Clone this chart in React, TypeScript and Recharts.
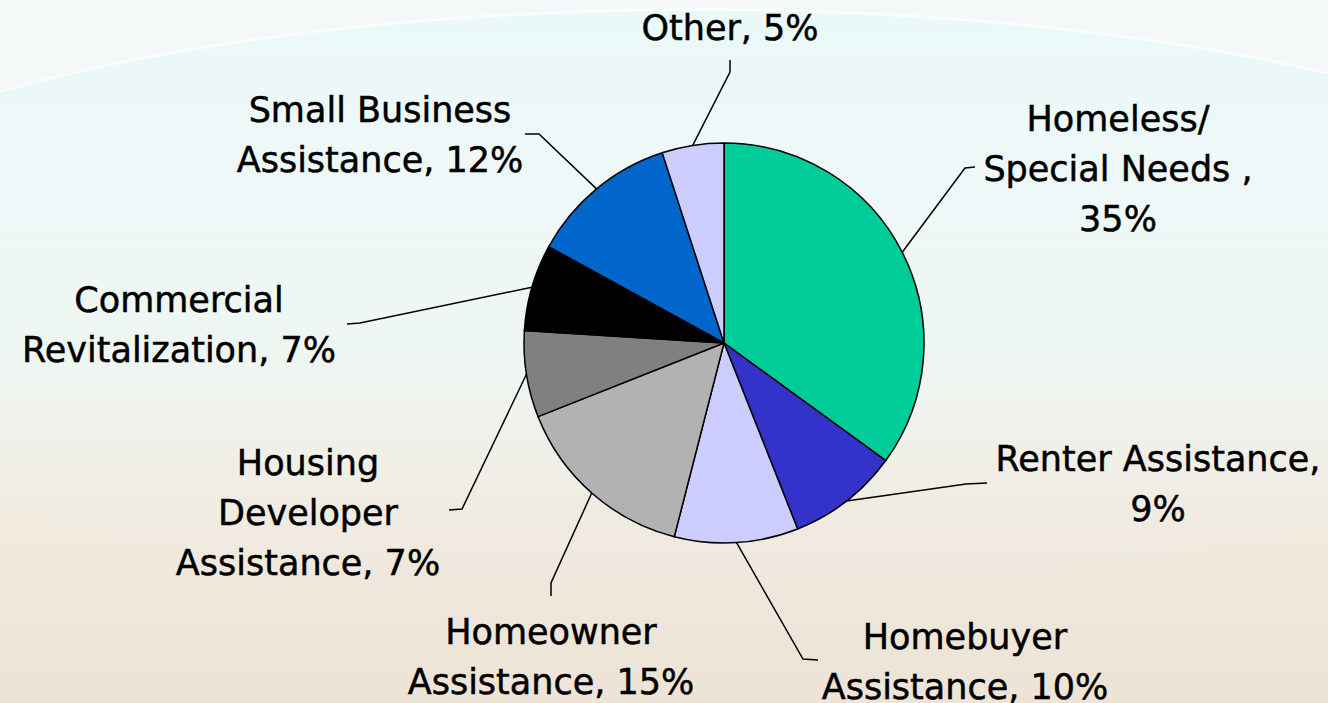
import { Cell, Pie, PieChart } from 'recharts';

const categories = [
  'Homeless/ Special Needs ',
  'Renter Assistance',
  'Homebuyer Assistance',
  'Homeowner Assistance',
  'Housing Developer Assistance',
  'Commercial Revitalization',
  'Small Business Assistance',
  'Other',
];

const shares = [35, 9, 10, 15, 7, 7, 12, 5];

// how each label wraps; {v} is replaced by the share
const labelLines = [
  ['Homeless/', 'Special Needs ,', '{v}%'],
  ['Renter Assistance,', '{v}%'],
  ['Homebuyer', 'Assistance, {v}%'],
  ['Homeowner', 'Assistance, {v}%'],
  ['Housing', 'Developer', 'Assistance, {v}%'],
  ['Commercial', 'Revitalization, {v}%'],
  ['Small Business', 'Assistance, {v}%'],
  ['Other, {v}%'],
];

const colors = ['#00cc99', '#3333cc', '#ccccff', '#b2b2b2', '#808080', '#000000', '#0066cc', '#ccccff'];

// leader elbow / end and label anchor, relative to the pie centre
const labelLayout = [
  { elbow: [241, -175], end: [251, -176], tx: 394, ty: -212 },
  { elbow: [242, 141], end: [263, 140], tx: 434, ty: 128 },
  { elbow: [79, 316], end: [94, 317], tx: 241, ty: 306 },
  { elbow: [-173, 240], end: [-173, 253], tx: -173, ty: 301 },
  { elbow: [-262, 166], end: [-275, 167], tx: -416, ty: 132 },
  { elbow: [-364, -20], end: [-377, -19], tx: -545, ty: -31 },
  { elbow: [-185, -209], end: [-199, -209], tx: -344, ty: -221 },
  { elbow: [6, -271], end: [6, -283], tx: 6, ty: -303 },
];

const data = categories.map((name, i) => ({ name, value: shares[i] }));

const RADIAN = Math.PI / 180;
const FONT = "'DejaVu Sans', Verdana, sans-serif";

function renderLabel(props: any) {
  const { cx, cy, midAngle, outerRadius, index } = props;
  const lay = labelLayout[index];
  const sx = cx + outerRadius * Math.cos(-midAngle * RADIAN);
  const sy = cy + outerRadius * Math.sin(-midAngle * RADIAN);
  const pts = `${sx},${sy} ${cx + lay.elbow[0]},${cy + lay.elbow[1]} ${cx + lay.end[0]},${cy + lay.end[1]}`;
  return (
    <g key={`lbl-${index}`}>
      <polyline points={pts} fill="none" stroke="#000" strokeWidth={1.5} />
      <text
        x={cx + lay.tx}
        y={cy + lay.ty}
        textAnchor="middle"
        fontFamily={FONT}
        fontSize={35}
        fill="#000"
        stroke="#000"
        strokeWidth={0.5}
      >
        {labelLines[index].map((line, j) => (
          <tspan key={j} x={cx + lay.tx} dy={j === 0 ? 0 : 50}>
            {line.replace('{v}', String(shares[index]))}
          </tspan>
        ))}
      </text>
    </g>
  );
}

export default function App() {
  return (
    <div
      style={{
        position: 'fixed',
        left: 0,
        top: 0,
        width: 1328,
        height: 703,
        overflow: 'hidden',
        background:
          'linear-gradient(to bottom, #f5f8f8 0%, #f2f8f7 30%, #f1f5ef 50%, #f1ebe1 70%, #ede3d6 100%)',
      }}
    >
      <div
        style={{
          position: 'absolute',
          left: -300,
          top: 8,
          width: 2000,
          height: 574,
          borderRadius: '50%',
          borderTop: '3px solid rgba(255,255,255,0.65)',
          background:
            'linear-gradient(to bottom, rgba(232,248,248,0.8) 0%, rgba(236,248,246,0.5) 45%, rgba(240,246,240,0) 100%)',
        }}
      />
      <div style={{ position: 'absolute', left: 0, top: 0 }}>
        <PieChart width={1328} height={703} margin={{ top: 0, right: 0, bottom: 0, left: 0 }}>
          <Pie
            data={data}
            dataKey="value"
            nameKey="name"
            cx={724}
            cy={343}
            outerRadius={200}
            startAngle={90}
            endAngle={-270}
            label={renderLabel}
            labelLine={false}
            isAnimationActive={false}
          >
            {data.map((d, i) => (
              <Cell key={d.name} fill={colors[i]} stroke="#000" strokeWidth={1.5} />
            ))}
          </Pie>
        </PieChart>
      </div>
    </div>
  );
}
